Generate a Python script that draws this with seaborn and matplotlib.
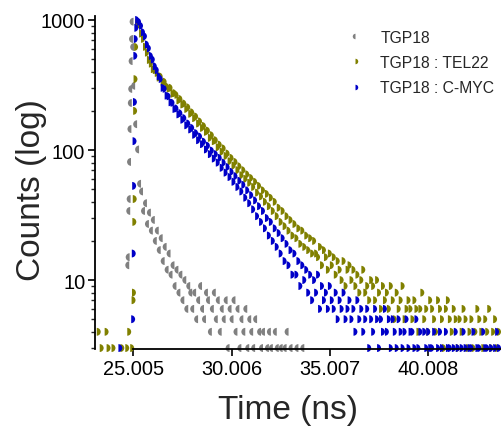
import numpy as np
import pandas as pd
import matplotlib
matplotlib.use("Agg")
import matplotlib.pyplot as plt
from matplotlib.markers import MarkerStyle
from matplotlib.ticker import FixedLocator, FixedFormatter, LogLocator, NullFormatter
import seaborn as sns

SERIES = ["TGP18", "TGP18 : TEL22", "TGP18 : C-MYC"]
COLORS = ["#808080", "#808000", "#0000c8"]

# shared decay time channels (ns)
TIME_NS = [
    25.1, 25.2, 25.3, 25.4, 25.5, 25.6, 25.7, 25.8, 25.9, 26.0,
    26.1, 26.2, 26.3, 26.4, 26.5, 26.6, 26.7, 26.8, 26.9, 27.0,
    27.1, 27.2, 27.3, 27.4, 27.5, 27.6, 27.7, 27.8, 27.9, 28.0,
    28.1, 28.2, 28.3, 28.4, 28.5, 28.6, 28.7, 28.8, 28.9, 29.0,
    29.1, 29.2, 29.3, 29.4, 29.5, 29.6, 29.7, 29.8, 29.9, 30.0,
    30.1, 30.2, 30.3, 30.4, 30.5, 30.6, 30.7, 30.8, 30.9, 31.0,
    31.1, 31.2, 31.3, 31.4, 31.5, 31.6, 31.7, 31.8, 31.9, 32.0,
    32.1, 32.2, 32.3, 32.4, 32.5, 32.6, 32.7, 32.8, 32.9, 33.0,
    33.1, 33.2, 33.3, 33.4, 33.5, 33.6, 33.7, 33.8, 33.9, 34.0,
    34.1, 34.2, 34.3, 34.4, 34.5, 34.6, 34.7, 34.8, 34.9, 35.0,
    35.1, 35.2, 35.3, 35.4, 35.5, 35.6, 35.7, 35.8, 35.9, 36.0,
    36.1, 36.2, 36.3, 36.4, 36.5, 36.6, 36.7, 36.8, 36.9, 37.0,
    37.1, 37.2, 37.3, 37.4, 37.5, 37.6, 37.7, 37.8, 37.9, 38.0,
    38.1, 38.2, 38.3, 38.4, 38.5, 38.6, 38.7, 38.8, 38.9, 39.0,
    39.1, 39.2, 39.3, 39.4, 39.5, 39.6, 39.7, 39.8, 39.9, 40.0,
    40.1, 40.2, 40.3, 40.4, 40.5, 40.6, 40.7, 40.8, 40.9, 41.0,
    41.1, 41.2, 41.3, 41.4, 41.5, 41.6, 41.7, 41.8, 41.9, 42.0,
    42.1, 42.2, 42.3, 42.4, 42.5, 42.6, 42.7, 42.8, 42.9, 43.0,
    43.1, 43.2, 43.3, 43.4, 43.5, 43.6, 43.7,
]

# TGP18 (decay channels 25.1 .. 35.0)
GRAY_COUNTS = [
    312, 158, 101, 55, 48, 34, 39, 27, 33, 24,
    29, 20, 24, 17, 21, 14, 18, 12, 16, 11,
    13, 9, 12, 8, 11, 7, 10, 6, 9, 8,
    6, 8, 5, 7, 9, 6, 5, 8, 7, 4,
    6, 8, 5, 7, 4, 6, 5, 7, 3, 6,
    5, 7, 4, 6, 3, 5, 4, 6, 3, 5,
    4, 3, 5, 2, 4, 3, 4, 2, 3, 4,
    3, 2, 4, 3, 2, 3, 2, 3, 4, 2,
    3, 2, 1, 3, 2, 2, 3, 1, 2, 2,
    1, 2, 1, 2, 2, 1, 0, 2, 1, 2,
]
GRAY_RISE_T = [24.80, 24.82, 24.85, 24.87, 24.89, 24.91, 24.93, 24.95, 24.97, 24.99, 25.02, 25.05]
GRAY_RISE_C = [13, 15, 34, 42, 81, 145, 230, 295, 483, 714, 970, 620]

# TGP18 : TEL22
OLIVE_COUNTS = [
    948, 921, 786, 716, 622, 561, 493, 462, 419, 412,
    392, 361, 368, 331, 335, 309, 297, 301, 271, 274,
    266, 241, 247, 224, 228, 207, 213, 190, 195, 176,
    181, 160, 166, 148, 153, 138, 141, 124, 130, 117,
    119, 105, 110, 97, 103, 90, 94, 82, 87, 76,
    81, 70, 75, 64, 70, 60, 65, 56, 61, 52,
    57, 47, 53, 44, 49, 40, 46, 37, 43, 34,
    40, 31, 36, 28, 34, 26, 31, 24, 29, 22,
    27, 21, 25, 19, 24, 18, 22, 17, 21, 16,
    20, 16, 15, 18, 13, 17, 15, 12, 16, 13,
    15, 11, 14, 12, 10, 14, 9, 12, 13, 10,
    12, 9, 11, 8, 10, 12, 8, 9, 7, 10,
    9, 7, 10, 8, 6, 9, 7, 8, 6, 9,
    7, 5, 8, 6, 7, 9, 5, 6, 7, 6,
    5, 7, 6, 4, 6, 8, 5, 6, 4, 7,
    6, 5, 4, 7, 6, 5, 3, 6, 7, 5,
    4, 6, 5, 3, 5, 4, 6, 5, 3, 4,
    5, 3, 4, 6, 5, 4, 3, 5, 4, 6,
    3, 4, 5, 3, 4, 2, 3,
]
OLIVE_PRE_T = [23.15, 23.30, 23.55, 23.65, 23.90, 24.35, 24.60, 24.70, 24.85]
OLIVE_PRE_C = [4, 3, 4, 3, 3, 3, 3, 4, 3]
OLIVE_RISE_T = [24.92, 24.94, 24.96, 24.98, 25.00, 25.02, 25.05]
OLIVE_RISE_C = [7, 8, 28, 42, 200, 351, 620]

# TGP18 : C-MYC
BLUE_COUNTS = [
    1000, 968, 902, 806, 750, 648, 606, 529, 497, 441,
    412, 369, 352, 301, 296, 262, 259, 233, 231, 207,
    209, 188, 192, 171, 176, 155, 160, 144, 148, 131,
    135, 119, 127, 111, 116, 101, 108, 93, 99, 86,
    93, 80, 87, 73, 80, 67, 74, 62, 68, 57,
    63, 52, 58, 48, 54, 43, 49, 39, 45, 35,
    41, 31, 37, 28, 34, 25, 30, 22, 28, 20,
    25, 18, 23, 16, 21, 14, 19, 13, 17, 11,
    16, 11, 14, 9, 13, 10, 12, 8, 11, 7,
    10, 8, 11, 6, 9, 7, 8, 6, 9, 7,
    6, 8, 5, 7, 6, 8, 5, 6, 7, 5,
    6, 4, 7, 5, 6, 4, 5, 6, 3, 5,
    4, 6, 5, 3, 5, 4, 6, 4, 5, 3,
    5, 4, 3, 5, 4, 3, 4, 5, 3, 4,
    4, 3, 5, 3, 4, 2, 4, 3, 4, 3,
    3, 4, 2, 3, 4, 3, 2, 4, 3, 3,
    2, 3, 4, 3, 2, 3, 4, 3, 2, 3,
    3, 4, 2, 3, 3, 2, 4, 3, 3, 2,
    3, 2, 3, 4, 3, 2, 3,
]
BLUE_PRE_T = [24.25]
BLUE_PRE_C = [3]
BLUE_RISE_T = [24.90, 24.93, 24.95, 24.97, 24.99, 25.01, 25.03, 25.06]
BLUE_RISE_C = [5, 16, 53, 117, 234, 530, 714, 870]

X_TICKS = [25.005, 30.006, 35.007, 40.008]
X_TICK_LABELS = ["25.005", "30.006", "35.007", "40.008"]
Y_TICKS = [10, 100, 1000]
Y_TICK_LABELS = ["10", "100", "1000"]

sns.set_theme(style="ticks")
plt.rcParams["font.family"] = ["Liberation Sans", "DejaVu Sans"]

frames = [
    pd.DataFrame({"time": GRAY_RISE_T + TIME_NS[:len(GRAY_COUNTS)],
                  "counts": GRAY_RISE_C + GRAY_COUNTS, "series": SERIES[0]}),
    pd.DataFrame({"time": OLIVE_PRE_T + OLIVE_RISE_T + TIME_NS,
                  "counts": OLIVE_PRE_C + OLIVE_RISE_C + OLIVE_COUNTS, "series": SERIES[1]}),
    pd.DataFrame({"time": BLUE_PRE_T + BLUE_RISE_T + TIME_NS,
                  "counts": BLUE_PRE_C + BLUE_RISE_C + BLUE_COUNTS, "series": SERIES[2]}),
]
df = pd.concat(frames, ignore_index=True)
df = df[df["counts"] >= 3]

fig = plt.figure(figsize=(5.02, 4.31), dpi=100)
ax = fig.add_axes([95 / 502, 1 - 350 / 431, 1 - 95 / 502, (350 - 17) / 431])

markers = {
    SERIES[0]: MarkerStyle("o", fillstyle="left"),
    SERIES[1]: MarkerStyle("o", fillstyle="right"),
    SERIES[2]: MarkerStyle("o", fillstyle="right"),
}
sns.scatterplot(data=df, x="time", y="counts", hue="series", style="series",
                hue_order=SERIES, style_order=SERIES,
                palette=dict(zip(SERIES, COLORS)), markers=markers,
                s=32, linewidth=0, ax=ax, clip_on=False)

ax.set_yscale("log")
ax.set_ylim(2.95, 1073)
ax.set_xlim(23.06, 43.75)
ax.yaxis.set_major_locator(FixedLocator(Y_TICKS))
ax.yaxis.set_major_formatter(FixedFormatter(Y_TICK_LABELS))
ax.yaxis.set_minor_locator(LogLocator(base=10, subs=np.arange(2, 10)))
ax.yaxis.set_minor_formatter(NullFormatter())
ax.set_xticks(X_TICKS)
ax.set_xticklabels(X_TICK_LABELS)

sns.despine(ax=ax)
ax.spines["bottom"].set_bounds(25.005, 43.75)
for sp in ("left", "bottom"):
    ax.spines[sp].set_linewidth(1.3)
    ax.spines[sp].set_color("black")
ax.tick_params(axis="both", which="major", direction="out", length=5, width=1.2,
               labelsize=14.4, colors="black", pad=2)
ax.tick_params(axis="y", which="minor", direction="out", length=3, width=1)
ax.tick_params(axis="x", which="minor", length=0)

ax.set_xlabel("Time (ns)", fontsize=24)
ax.set_ylabel("Counts (log)", fontsize=24)
ax.xaxis.set_label_coords((288 - 95) / 407, -0.135)
ax.yaxis.set_label_coords((47 - 95) / 407, 0.48)

leg = ax.legend(loc="upper left", bbox_to_anchor=(0.585, 0.978), frameon=False,
                fontsize=11.3, handletextpad=0.6, labelspacing=0.66,
                markerscale=0.7, borderaxespad=0)

fig.savefig("out.png", dpi=100)
